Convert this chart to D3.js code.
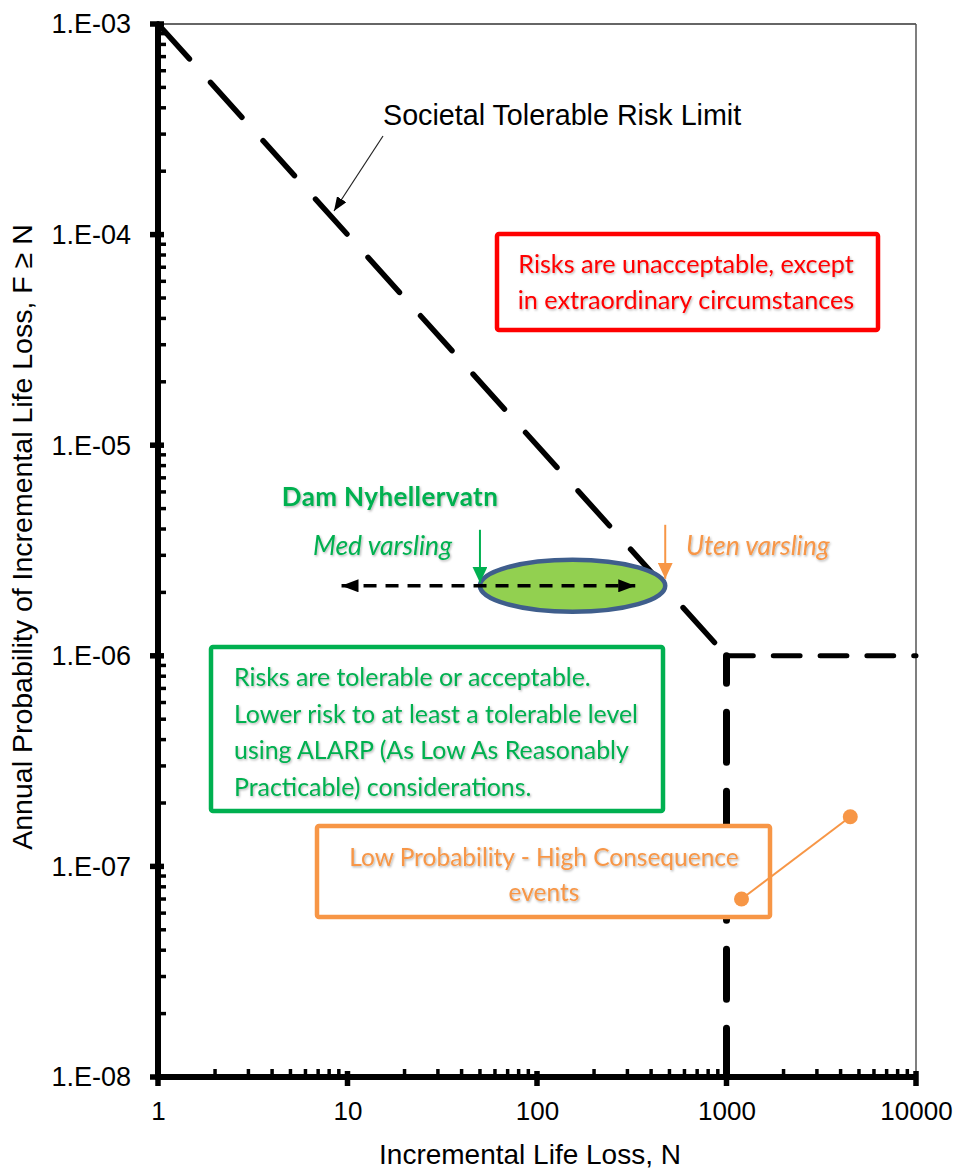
<!DOCTYPE html>
<html>
<head>
<meta charset="utf-8">
<script src="https://cdn.jsdelivr.net/npm/d3@7"></script>
<style>
  body { margin: 0; background: #fff; }
  svg { display: block; }
</style>
</head>
<body>
<svg id="chart" width="957" height="1171"></svg>
<script>
// ---- data ----
const xTicks = [1, 10, 100, 1000, 10000];
const xTickLabels = ["1", "10", "100", "1000", "10000"];
const yTicks = [1e-3, 1e-4, 1e-5, 1e-6, 1e-7, 1e-8];
const yTickLabels = ["1.E-03", "1.E-04", "1.E-05", "1.E-06", "1.E-07", "1.E-08"];

// societal tolerable risk limit (N, F)
const limitLine = [[1, 1e-3], [1000, 1e-6]];
const limitCap = [[1000, 1e-6], [10000, 1e-6]];
const limitFloor = [[1000, 1e-6], [1000, 1e-8]];

// Dam Nyhellervatn: life loss with / without warning, annual probability
const damNames = ["Med varsling", "Uten varsling"];
const damLifeLoss = [50, 475];
const damProbability = 2.15e-6;
const warningSpan = [9.3, 330];

// low probability - high consequence leader (N, F)
const lphcPoints = [[1200, 7.0e-8], [4500, 1.72e-7]];

// ---- layout ----
const svg = d3.select("#chart");
const x = d3.scaleLog().domain([1, 10000]).range([158, 916]);
const y = d3.scaleLog().domain([1e-3, 1e-8]).range([24, 1077]);

const ARIAL = "'Liberation Sans', Arial, sans-serif";
const CAL = "Lato, 'Open Sans', sans-serif";
const RED = "#ff0000", GREEN = "#00b050", ORANGE = "#f79646";

const defs = svg.append("defs");
const sh = defs.append("filter").attr("id", "txtShadow")
  .attr("x", "-5%").attr("y", "-20%").attr("width", "110%").attr("height", "150%");
sh.append("feDropShadow").attr("dx", 1).attr("dy", 1.3).attr("stdDeviation", 0.9)
  .attr("flood-color", "#000").attr("flood-opacity", 0.3);

function marker(id, color, len, wid) {
  defs.append("marker").attr("id", id)
    .attr("viewBox", `0 0 ${len} ${wid}`)
    .attr("refX", len).attr("refY", wid / 2)
    .attr("markerWidth", len).attr("markerHeight", wid)
    .attr("markerUnits", "userSpaceOnUse")
    .attr("orient", "auto-start-reverse")
    .append("path").attr("d", `M0,0L${len},${wid / 2}L0,${wid}Z`).attr("fill", color);
}
marker("arrBlackThin", "#000", 14, 11);
marker("arrBlack", "#000", 17, 13);
marker("arrGreen", GREEN, 16, 15);
marker("arrOrange", ORANGE, 16, 15);

// ---- frame ----
svg.append("line").attr("x1", x(1)).attr("x2", x(10000)).attr("y1", y(1e-3)).attr("y2", y(1e-3))
  .attr("stroke", "#333").attr("stroke-width", 1.5);
svg.append("line").attr("x1", x(10000)).attr("x2", x(10000)).attr("y1", y(1e-3)).attr("y2", y(1e-8))
  .attr("stroke", "#555").attr("stroke-width", 1.5);

// ---- limit lines ----
const line = d3.line().x(d => x(d[0])).y(d => y(d[1]));
svg.append("path").attr("d", line(limitLine)).attr("fill", "none")
  .attr("stroke", "#000").attr("stroke-width", 5.5).attr("stroke-linecap", "round")
  .attr("stroke-dasharray", "47 31.5");
svg.append("path").attr("d", line(limitCap)).attr("fill", "none")
  .attr("stroke", "#000").attr("stroke-width", 5).attr("stroke-linecap", "round")
  .attr("stroke-dasharray", "26.8 20");
svg.append("path").attr("d", line(limitFloor)).attr("fill", "none")
  .attr("stroke", "#000").attr("stroke-width", 7).attr("stroke-linecap", "round")
  .attr("stroke-dasharray", "50 29").attr("stroke-dashoffset", 22.5);

// ---- axes ----
const xAxis = d3.axisBottom(x).tickValues(xTicks).tickFormat((d, i) => xTickLabels[i]).tickSize(0);
const gx = svg.append("g").attr("transform", `translate(0,${y(1e-8)})`).call(xAxis);
gx.select(".domain").remove();
gx.selectAll("text").attr("y", 43).attr("dy", null)
  .attr("font-family", ARIAL).attr("font-size", 26).attr("fill", "#000");

const yAxis = d3.axisLeft(y).tickValues(yTicks).tickFormat((d, i) => yTickLabels[i]).tickSize(0);
const gy = svg.append("g").attr("transform", `translate(${x(1)},0)`).call(yAxis);
gy.select(".domain").remove();
gy.selectAll("text").attr("x", -27).attr("dy", "0.33em")
  .attr("font-family", ARIAL).attr("font-size", 27).attr("fill", "#000");

const x0 = x(1), yb = y(1e-8);
const xMinor = x.ticks().filter(v => !xTicks.includes(v));
const yMinor = y.ticks().filter(v => !yTicks.some(t => Math.abs(t - v) / t < 1e-9));

svg.append("g").selectAll("line").data(xMinor).join("line")
  .attr("x1", d => x(d)).attr("x2", d => x(d)).attr("y1", yb).attr("y2", yb - 8)
  .attr("stroke", "#000").attr("stroke-width", 3.5);
svg.append("g").selectAll("line").data(xTicks).join("line")
  .attr("x1", d => x(d)).attr("x2", d => x(d)).attr("y1", yb - 6).attr("y2", yb + 9)
  .attr("stroke", "#000").attr("stroke-width", 5.5);
svg.append("g").selectAll("line").data(yMinor).join("line")
  .attr("x1", x0).attr("x2", x0 + 8).attr("y1", d => y(d)).attr("y2", d => y(d))
  .attr("stroke", "#000").attr("stroke-width", 3.5);
svg.append("g").selectAll("line").data(yTicks).join("line")
  .attr("x1", x0 - 8).attr("x2", x0 + 6).attr("y1", d => y(d)).attr("y2", d => y(d))
  .attr("stroke", "#000").attr("stroke-width", 5.5);

svg.append("line").attr("x1", x0).attr("x2", x0).attr("y1", y(1e-3) - 2).attr("y2", yb + 3)
  .attr("stroke", "#000").attr("stroke-width", 6);
svg.append("line").attr("x1", x0 - 3).attr("x2", x(10000) + 2).attr("y1", yb).attr("y2", yb)
  .attr("stroke", "#000").attr("stroke-width", 6);

// axis titles
svg.append("text").attr("x", 530).attr("y", 1164).attr("text-anchor", "middle")
  .attr("font-family", ARIAL).attr("font-size", 28).attr("fill", "#000")
  .text("Incremental Life Loss, N");
svg.append("text").attr("transform", `translate(32,537) rotate(-90)`)
  .attr("text-anchor", "middle")
  .attr("font-family", ARIAL).attr("font-size", 28.5).attr("fill", "#000")
  .text("Annual Probability of Incremental Life Loss, F \u2265 N");

// ---- societal limit label ----
svg.append("text").attr("x", 383).attr("y", 125)
  .attr("font-family", ARIAL).attr("font-size", 28.7).attr("fill", "#000")
  .text("Societal Tolerable Risk Limit");
svg.append("line").attr("x1", 383).attr("y1", 136).attr("x2", 334).attr("y2", 211)
  .attr("stroke", "#222").attr("stroke-width", 1.2).attr("marker-end", "url(#arrBlackThin)");

// ---- text boxes ----
function box(x1, y1, x2, y2, color, lines, opts) {
  const g = svg.append("g");
  g.append("rect").attr("x", x1).attr("y", y1).attr("width", x2 - x1).attr("height", y2 - y1)
    .attr("rx", 2).attr("fill", "#fff").attr("stroke", color).attr("stroke-width", 4.5);
  g.append("g").attr("filter", "url(#txtShadow)").selectAll("text").data(lines).join("text")
    .attr("x", opts.x).attr("y", (d, i) => opts.y + i * opts.dy)
    .attr("text-anchor", opts.anchor)
    .attr("font-family", CAL).attr("font-size", opts.size).attr("fill", color)
    .text(d => d);
  return g;
}

box(497, 234, 878, 330, RED,
  ["Risks are unacceptable, except", "in extraordinary circumstances"],
  { x: 686, y: 273, dy: 36, anchor: "middle", size: 25.2 });

box(211, 647, 663, 811, GREEN,
  ["Risks are tolerable or acceptable.",
   "Lower risk to at least a tolerable level",
   "using ALARP (As Low As Reasonably",
   "Practicable) considerations."],
  { x: 234, y: 686, dy: 36.6, anchor: "start", size: 24.9 });

box(317, 826, 770, 917, ORANGE,
  ["Low Probability - High Consequence", "events"],
  { x: 544, y: 866, dy: 35, anchor: "middle", size: 24.5 });

// leader line with end dots
svg.append("path").attr("d", line(lphcPoints)).attr("fill", "none")
  .attr("stroke", ORANGE).attr("stroke-width", 2);
svg.append("g").selectAll("circle").data(lphcPoints).join("circle")
  .attr("cx", d => x(d[0])).attr("cy", d => y(d[1])).attr("r", 7.5).attr("fill", ORANGE);

// ---- Dam Nyhellervatn ----
const eLeft = x(damLifeLoss[0]), eRight = x(damLifeLoss[1]), eY = y(damProbability);
svg.append("ellipse").attr("cx", (eLeft + eRight) / 2).attr("cy", eY)
  .attr("rx", (eRight - eLeft) / 2).attr("ry", 26)
  .attr("fill", "#92d050").attr("stroke", "#3f5e8c").attr("stroke-width", 4.5);

svg.append("line").attr("x1", x(warningSpan[0])).attr("x2", x(warningSpan[1]))
  .attr("y1", eY).attr("y2", eY)
  .attr("stroke", "#000").attr("stroke-width", 3.5).attr("stroke-dasharray", "13 9")
  .attr("marker-start", "url(#arrBlack)").attr("marker-end", "url(#arrBlack)");

svg.append("line").attr("x1", eLeft).attr("x2", eLeft).attr("y1", eY - 56).attr("y2", eY - 3)
  .attr("stroke", GREEN).attr("stroke-width", 2).attr("marker-end", "url(#arrGreen)");
svg.append("line").attr("x1", eRight).attr("x2", eRight).attr("y1", eY - 61).attr("y2", eY - 7)
  .attr("stroke", ORANGE).attr("stroke-width", 2).attr("marker-end", "url(#arrOrange)");

const lab = svg.append("g").attr("filter", "url(#txtShadow)");
lab.append("text").attr("x", 390).attr("y", 506).attr("text-anchor", "middle")
  .attr("font-family", CAL).attr("font-weight", "bold").attr("font-size", 26)
  .attr("letter-spacing", 0.4).attr("fill", GREEN)
  .text("Dam Nyhellervatn");
lab.append("text").attr("x", 452).attr("y", 555).attr("text-anchor", "end")
  .attr("font-family", CAL).attr("font-style", "italic").attr("font-size", 26.5).attr("fill", GREEN)
  .text(damNames[0]);
lab.append("text").attr("x", 686).attr("y", 555).attr("text-anchor", "start")
  .attr("font-family", CAL).attr("font-style", "italic").attr("font-size", 26.5).attr("fill", ORANGE)
  .text(damNames[1]);
</script>
</body>
</html>
